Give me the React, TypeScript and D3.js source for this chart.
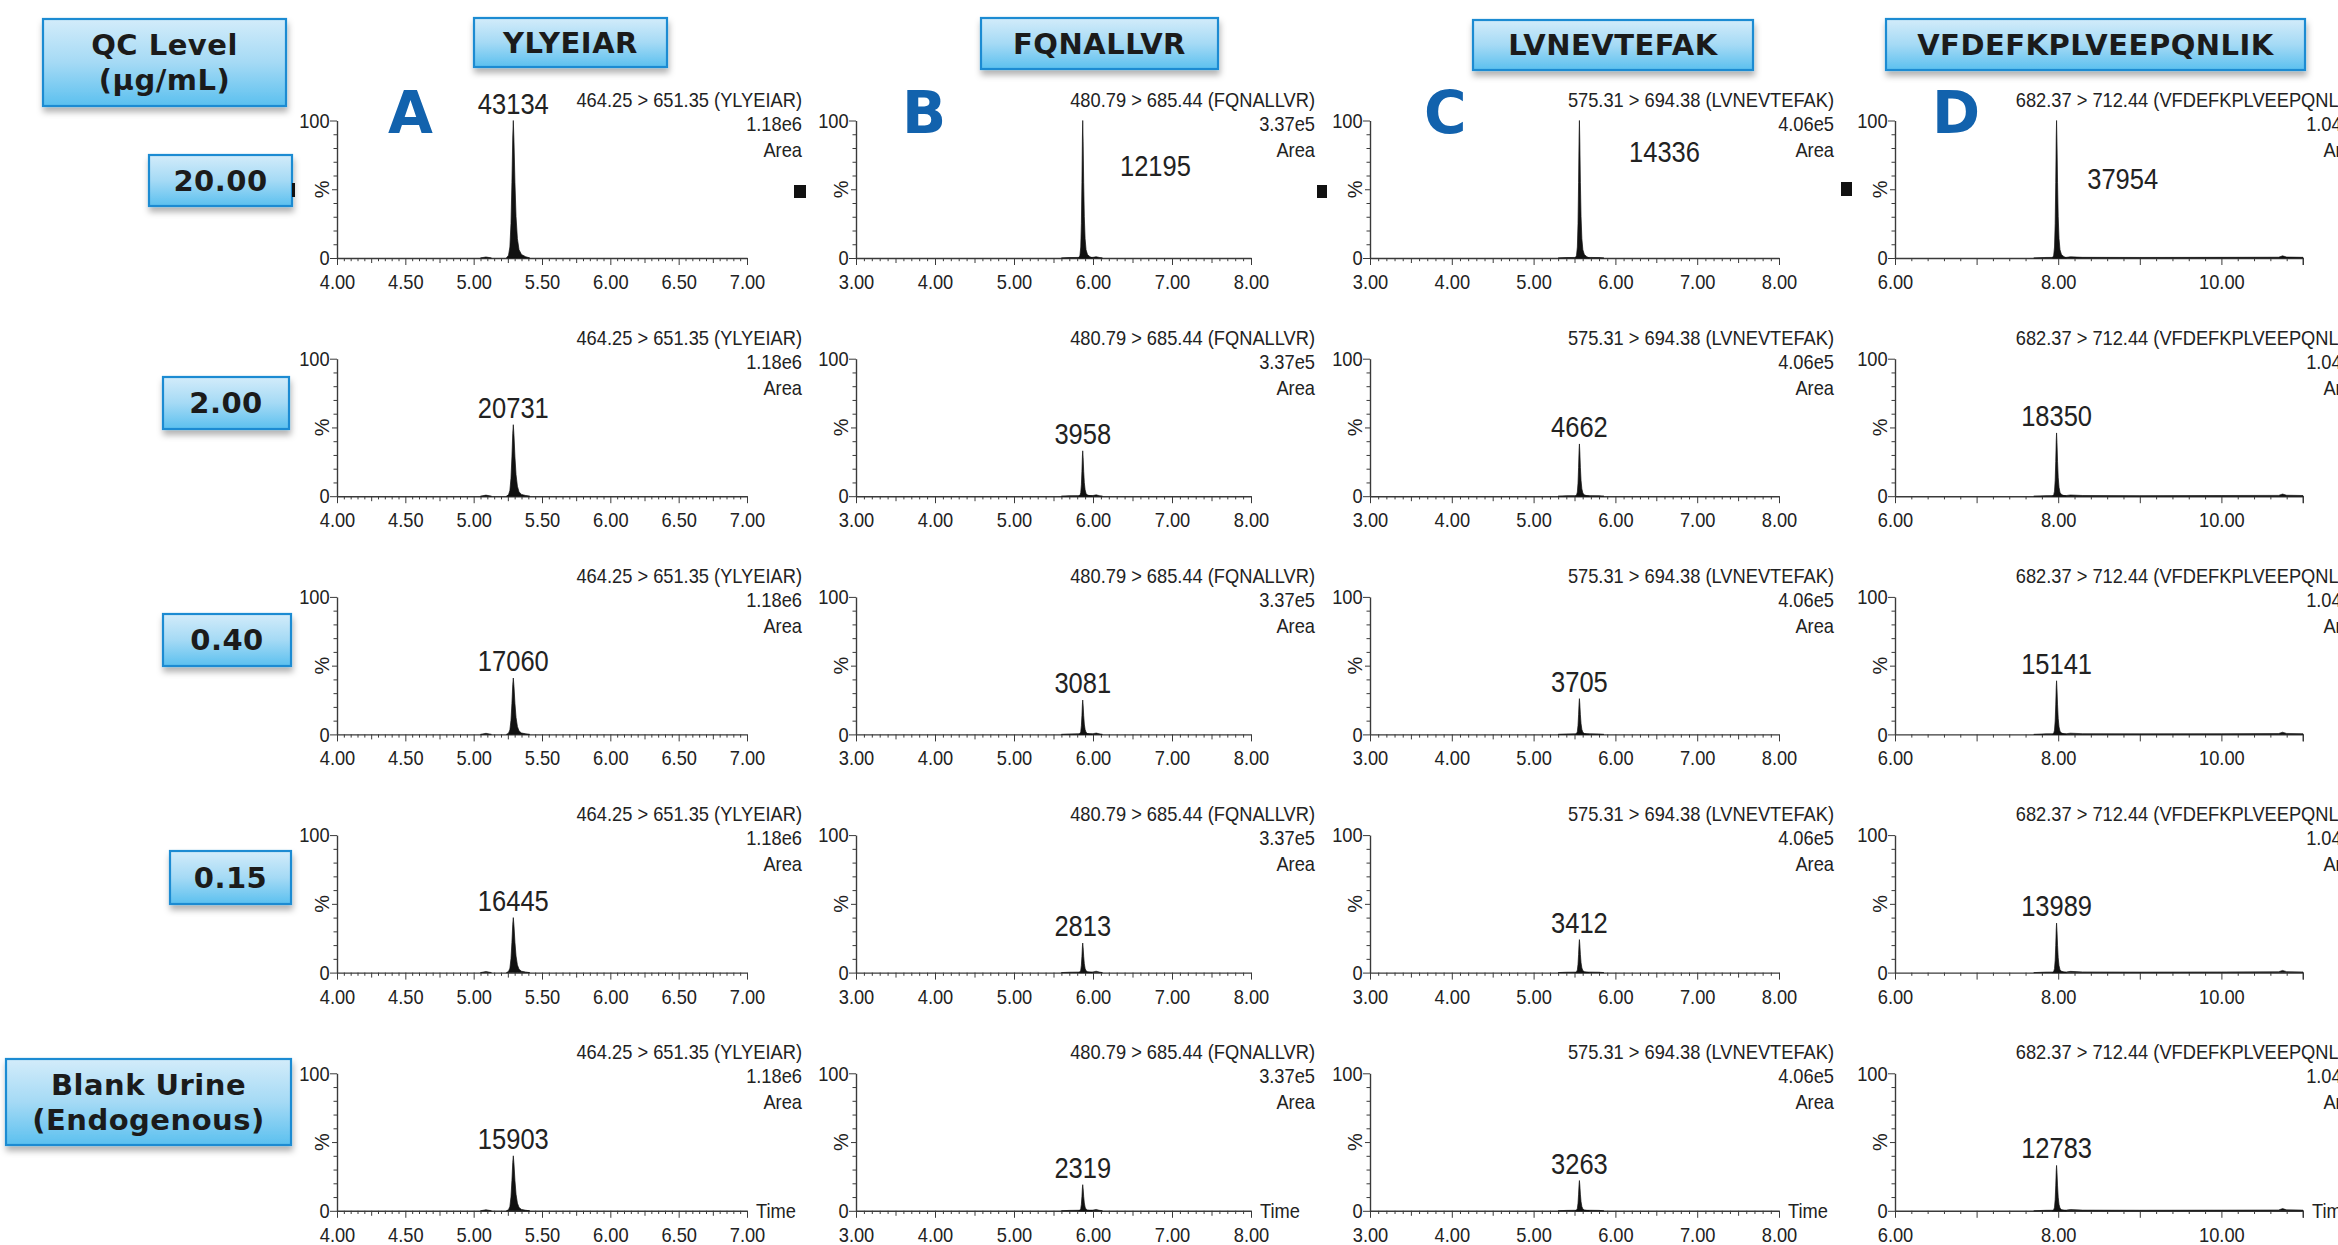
import React, { useEffect, useRef } from 'react';
import * as d3 from 'd3';

// ---- chart values ----
const peptides = ['YLYEIAR', 'FQNALLVR', 'LVNEVTEFAK', 'VFDEFKPLVEEPQNLIK'];
const panelLetters = ['A', 'B', 'C', 'D'];
const transitions = [
  '464.25 > 651.35 (YLYEIAR)',
  '480.79 > 685.44 (FQNALLVR)',
  '575.31 > 694.38 (LVNEVTEFAK)',
  '682.37 > 712.44 (VFDEFKPLVEEPQNLIK)',
];
const fullScale = ['1.18e6', '3.37e5', '4.06e5', '1.04e6'];
const qcLevels = [['20.00'], ['2.00'], ['0.40'], ['0.15'], ['Blank Urine', '(Endogenous)']];
const retentionTimes = [5.29, 5.87, 5.56, 7.98];
const timeDomains = [[4, 7], [3, 8], [3, 8], [6, 11]];
const labelTicks = [
  [4, 4.5, 5, 5.5, 6, 6.5, 7],
  [3, 4, 5, 6, 7, 8],
  [3, 4, 5, 6, 7, 8],
  [6, 8, 10],
];
const midTickStep = [0.25, 0.5, 0.5, 1];
const minorTickStep = [0.05, 0.1, 0.1, 0.2];

// peak areas: rows = QC level, columns = peptide
const peakAreas = [
  [43134, 12195, 14336, 37954],
  [20731, 3958, 4662, 18350],
  [17060, 3081, 3705, 15141],
  [16445, 2813, 3412, 13989],
  [15903, 2319, 3263, 12783],
];
// apex height, % of full scale
const peakHeights = [
  [100, 100, 100, 100],
  [52, 33, 38, 46],
  [41, 25, 26, 39],
  [40, 21.5, 24, 36],
  [40, 19, 22, 33],
];
// first row labels for B-D sit beside the peak: [time, %]
const topRowLabelSpots: (number[] | null)[] = [null, [6.79, 60], [6.6, 70], [8.79, 50]];

// peak shape: [minutes from apex, % of apex]
const peakProfile = [
  [-0.05, 0], [-0.035, 2], [-0.025, 8], [-0.017, 25], [-0.01, 55], [-0.004, 88],
  [0, 100], [0.005, 85], [0.012, 55], [0.02, 30], [0.03, 14], [0.042, 6],
  [0.06, 2.5], [0.09, 1], [0.12, 0],
];
// small baseline features: [time, %]
const baselineBumps = [
  [[5.05, 0], [5.09, 0.8], [5.13, 0]],
  [[5.6, 0], [5.7, 0.3], [5.8, 0.4], [6.0, 0.5], [6.04, 1], [6.08, 0.4], [6.12, 0]],
  [[5.3, 0], [5.4, 0.3], [5.5, 0.4], [5.7, 0.4], [5.8, 0.3], [5.86, 0]],
  [[7.7, 0], [7.85, 0.4], [8.1, 0.5], [8.15, 0.9], [8.3, 0.5], [9.0, 0.4], [10.0, 0.5], [10.7, 0.6], [10.75, 1.6], [10.8, 0.7], [11, 0.5]],
];

// ---- layout ----
const W = 2338, H = 1245;
const rowZeroY = 258, rowStep = 238.2, plotH = 137.5;
const colAxis = [[337, 747], [856, 1251], [1370, 1779], [1895, 2303]];
const headerRight = [802, 1315, 1834, 2362];
const letterX = [388, 902, 1424, 1932];
const colBoxes = [[474, 18, 193, 49], [981, 18, 237, 51], [1473, 20, 280, 50], [1886, 19, 419, 51]];
const rowBoxes = [[149, 155, 143, 51], [163, 377, 126, 52], [163, 614, 128, 52], [170, 851, 121, 53], [6, 1059, 285, 86]];
const markers = [[794, 185, 12, 13], [1317, 185, 10, 13], [1841, 182, 11, 14], [292, 183, 3, 14]];

const PLOT_FONT = '"Liberation Sans", Arial, Helvetica, sans-serif';
const BOX_FONT = '"DejaVu Sans", Verdana, sans-serif';
const SX = 0.87;

export default function App() {
  const ref = useRef<SVGSVGElement>(null);

  useEffect(() => {
    document.body.style.margin = '0';
    const svg = d3.select(ref.current);
    svg.selectAll('*').remove();

    const defs = svg.append('defs');
    const grad = defs.append('linearGradient').attr('id', 'boxGrad').attr('x1', 0).attr('y1', 0).attr('x2', 0).attr('y2', 1);
    grad.append('stop').attr('offset', '0%').attr('stop-color', '#d3ecfa');
    grad.append('stop').attr('offset', '50%').attr('stop-color', '#a5daf5');
    grad.append('stop').attr('offset', '100%').attr('stop-color', '#5bc0ef');
    defs.append('filter').attr('id', 'shadow').attr('x', '-10%').attr('y', '-20%').attr('width', '130%').attr('height', '160%')
      .append('feDropShadow').attr('dx', 1).attr('dy', 5).attr('stdDeviation', 3)
      .attr('flood-color', '#000').attr('flood-opacity', 0.3);

    const narrow = (parent: any, x: number, y: number, str: string, size: number, anchor: string, sx = SX) =>
      parent.append('text')
        .attr('transform', `translate(${x},${y}) scale(${sx},1)`)
        .attr('text-anchor', anchor)
        .attr('font-family', PLOT_FONT)
        .attr('font-size', size)
        .attr('fill', '#222')
        .text(str);

    const drawBox = (b: number[], lines: string[]) => {
      const [bx, by, bw, bh] = b;
      svg.append('rect').attr('x', bx).attr('y', by).attr('width', bw).attr('height', bh)
        .attr('fill', 'url(#boxGrad)').attr('stroke', '#1f8bd2').attr('stroke-width', 2.2)
        .attr('filter', 'url(#shadow)');
      const lh = 35;
      const cy = by + bh / 2;
      lines.forEach((ln, i) => {
        svg.append('text')
          .attr('x', bx + bw / 2)
          .attr('y', cy + (i - (lines.length - 1) / 2) * lh)
          .attr('dy', '0.36em')
          .attr('text-anchor', 'middle')
          .attr('font-family', BOX_FONT)
          .attr('font-weight', 'bold')
          .attr('font-size', 29)
          .attr('letter-spacing', 0.5)
          .attr('fill', '#1b1b1b')
          .text(ln);
      });
    };

    // header boxes
    drawBox([43, 19, 243, 87], ['QC Level', '(\u03bcg/mL)']);
    peptides.forEach((p, c) => drawBox(colBoxes[c], [p]));
    qcLevels.forEach((q, r) => drawBox(rowBoxes[r], q));

    // small black marks
    markers.forEach(m => {
      svg.append('rect').attr('x', m[0]).attr('y', m[1]).attr('width', m[2]).attr('height', m[3]).attr('fill', '#111');
    });

    // panel letters
    panelLetters.forEach((l, c) => {
      svg.append('text').attr('x', letterX[c]).attr('y', 133)
        .attr('font-family', BOX_FONT).attr('font-weight', 'bold').attr('font-size', 58)
        .attr('fill', '#1262ad').text(l);
    });

    qcLevels.forEach((_, r) => {
      const zeroY = rowZeroY + r * rowStep;
      const y = d3.scaleLinear().domain([0, 100]).range([zeroY, zeroY - plotH]);

      peptides.forEach((_, c) => {
        const [x0, x1] = colAxis[c];
        const dom = timeDomains[c];
        const x = d3.scaleLinear().domain(dom).range([x0, x1]);
        const g = svg.append('g');

        // x axis: minor, mid and labelled ticks
        const minor = d3.range(dom[0], dom[1] + 1e-9, minorTickStep[c]).map(v => +v.toFixed(3));
        const mids = d3.range(dom[0], dom[1] + 1e-9, midTickStep[c]).map(v => +v.toFixed(3));
        const isLabel = (v: number) => labelTicks[c].some(t => Math.abs(t - v) < 1e-6);
        const isMid = (v: number) => mids.some(t => Math.abs(t - v) < 1e-6);
        const midLen = c === 3 ? 7 : 5;

        g.append('g').attr('transform', `translate(0,${zeroY})`).attr('color', '#3a3a3a')
          .call(d3.axisBottom(x).tickValues(minor.filter(v => !isMid(v) && !isLabel(v))).tickSize(3.2).tickSizeOuter(0).tickFormat(() => ''))
          .call(a => a.select('.domain').remove());
        g.append('g').attr('transform', `translate(0,${zeroY})`).attr('color', '#3a3a3a')
          .call(d3.axisBottom(x).tickValues(mids.filter(v => !isLabel(v))).tickSize(midLen).tickSizeOuter(0).tickFormat(() => ''))
          .call(a => a.select('.domain').remove());
        const lab = g.append('g').attr('transform', `translate(0,${zeroY})`).attr('color', '#3a3a3a')
          .call(d3.axisBottom(x).tickValues(labelTicks[c]).tickSize(7).tickPadding(9).tickSizeOuter(0).tickFormat(d3.format('.2f') as any));
        lab.select('.domain').attr('stroke-width', 1.4);
        lab.selectAll('text').attr('font-family', PLOT_FONT).attr('font-size', 21).attr('fill', '#222')
          .attr('transform', `scale(${SX},1)`);
        if (c === 3) {
          g.append('line').attr('x1', x(dom[1])).attr('x2', x(dom[1])).attr('y1', zeroY).attr('y2', zeroY + 7).attr('stroke', '#3a3a3a');
        }

        // y axis
        g.append('g').attr('transform', `translate(${x0},0)`).attr('color', '#3a3a3a')
          .call(d3.axisLeft(y).tickValues(d3.range(10, 100, 10).filter(v => v !== 50)).tickSize(3.5).tickSizeOuter(0).tickFormat(() => ''))
          .call(a => a.select('.domain').attr('stroke-width', 1.4));
        g.append('g').attr('transform', `translate(${x0},0)`).attr('color', '#3a3a3a')
          .call(d3.axisLeft(y).tickValues([50]).tickSize(5).tickSizeOuter(0).tickFormat(() => ''))
          .call(a => a.select('.domain').remove());
        const yl = g.append('g').attr('transform', `translate(${x0},0)`).attr('color', '#3a3a3a')
          .call(d3.axisLeft(y).tickValues([0, 100]).tickSize(7).tickPadding(1.5).tickSizeOuter(0).tickFormat(d3.format('d') as any))
          .call(a => a.select('.domain').remove());
        yl.selectAll('text').attr('font-family', PLOT_FONT).attr('font-size', 21).attr('fill', '#222')
          .attr('transform', `scale(${SX},1)`);

        // % label
        g.append('text')
          .attr('transform', `translate(${x0 - 15},${y(50)}) rotate(-90)`)
          .attr('text-anchor', 'middle').attr('dy', '0.35em')
          .attr('font-family', PLOT_FONT).attr('font-size', 20).attr('fill', '#222').text('%');

        // header texts
        narrow(g, headerRight[c], y(100) - 14, transitions[c], 21, 'end');
        narrow(g, headerRight[c], y(100) + 10, fullScale[c], 21, 'end');
        narrow(g, headerRight[c], y(100) + 36, 'Area', 21, 'end');
        if (r === qcLevels.length - 1) narrow(g, x1 + 9, zeroY + 7, 'Time', 21, 'start');

        // trace
        const area = d3.area<number[]>().x(d => x(d[0])).y0(y(0)).y1(d => y(d[1])).curve(d3.curveLinear);
        g.append('path').attr('d', area(baselineBumps[c]) as string)
          .attr('fill', '#111').attr('stroke', '#111').attr('stroke-width', 0.6);
        const h = peakHeights[r][c];
        const rt = retentionTimes[c];
        const peak = peakProfile.map(p => [rt + p[0], (p[1] * h) / 100]);
        g.append('path').attr('d', area(peak) as string)
          .attr('fill', '#111').attr('stroke', '#111').attr('stroke-width', 0.7);

        // area label
        const spot = r === 0 ? topRowLabelSpots[c] : null;
        if (spot) {
          narrow(g, x(spot[0]), y(spot[1]), String(peakAreas[r][c]), 30, 'middle', 0.85);
        } else {
          narrow(g, x(rt), y(h) - 7, String(peakAreas[r][c]), 30, 'middle', 0.85);
        }
      });
    });
  }, []);

  return <svg ref={ref} width={W} height={H} style={{ display: 'block', background: '#fff' }} />;
}
